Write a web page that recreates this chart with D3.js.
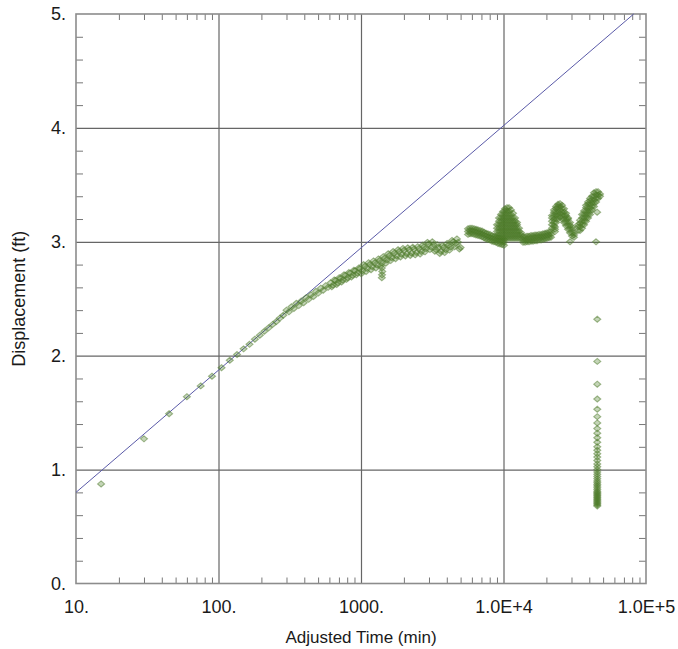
<!DOCTYPE html>
<html>
<head>
<meta charset="utf-8">
<script src="https://cdn.jsdelivr.net/npm/d3@7"></script>
<style>
  body { margin: 0; background: #fff; }
  text { font-family: "Liberation Sans", Arial, sans-serif; fill: #1a1a1a; }
</style>
</head>
<body>
<svg id="chart" width="678" height="649"></svg>
<script>
// Axis tick labels
const xTickValues = [10, 100, 1000, 1e4, 1e5];
const xTickLabels = ["10.", "100.", "1000.", "1.0E+4", "1.0E+5"];
const yTickValues = [0, 1, 2, 3, 4, 5];
const yTickLabels = ["0.", "1.", "2.", "3.", "4.", "5."];

// Straight-line match through the early data
const fitTime = [10, 82000];
const fitDisp = [0.80, 5.0];

// Early drawdown readings (min, ft)
const earlyTime = [15, 30, 45, 60, 75, 90, 105, 120, 135, 150, 165, 180, 195, 210, 225, 240, 255, 270, 285];
const earlyDisp = [0.874, 1.27, 1.49, 1.64, 1.735, 1.82, 1.895, 1.96, 2.01, 2.06, 2.10, 2.145, 2.18, 2.215, 2.245, 2.275, 2.30, 2.33, 2.355];

// Main drawdown band, 300 - 5000 min
const bandTime = [300, 312, 325, 338, 352, 366, 381, 396, 412, 429, 446, 464, 483, 502, 522, 543, 565, 588,
  612, 637, 662, 689, 717, 746, 776, 807, 840, 874, 909, 946, 984, 1024, 1065, 1108, 1153, 1200, 1248, 1299,
  1351, 1406, 1463, 1522, 1583, 1647, 1714, 1783, 1855, 1930, 2008, 2090, 2174, 2262, 2354, 2449, 2548, 2651,
  2758, 2870, 2986, 3107, 3232, 3363, 3499, 3640, 3788, 3941, 4100, 4266, 4439, 4618, 4805, 5000,
  1400, 1410, 1405, 1400];
const bandDisp = [2.40, 2.385, 2.43, 2.415, 2.46, 2.44, 2.48, 2.465, 2.51, 2.495, 2.535, 2.52, 2.565, 2.55, 2.593, 2.575, 2.615, 2.60,
  2.64, 2.62, 2.66, 2.64, 2.68, 2.665, 2.705, 2.685, 2.725, 2.705, 2.745, 2.725, 2.765, 2.745, 2.785, 2.765, 2.80, 2.78, 2.815, 2.795,
  2.835, 2.815, 2.855, 2.84, 2.88, 2.86, 2.90, 2.875, 2.915, 2.89, 2.925, 2.895, 2.93, 2.90, 2.935, 2.905, 2.94, 2.915,
  2.955, 2.94, 2.98, 2.955, 2.975, 2.93, 2.95, 2.915, 2.95, 2.93, 2.97, 2.955, 3.00, 2.985, 2.995, 2.95,
  2.77, 2.74, 2.71, 2.685];

// Intermediate readings in the same band
const bandMidTime = [624, 649, 675, 703, 731, 761, 791, 823, 857, 891, 927, 965, 1004, 1044, 1086, 1130, 1176, 1224,
  1273, 1325, 1378, 1434, 1492, 1552, 1615, 1680, 1748, 1819, 1892, 1969, 2049, 2132, 2218, 2308, 2401, 2498,
  2599, 2704, 2813, 2927, 3046, 3169, 3297, 3431, 3569, 3713, 3864, 4020, 4182, 4352, 4528, 4711, 4902];
const bandMidDisp = [2.605, 2.665, 2.625, 2.685, 2.647, 2.71, 2.67, 2.73, 2.69, 2.75, 2.71, 2.77, 2.72, 2.80, 2.74, 2.817, 2.755, 2.832,
  2.77, 2.85, 2.79, 2.87, 2.812, 2.895, 2.835, 2.915, 2.852, 2.93, 2.867, 2.942, 2.875, 2.947, 2.88, 2.952, 2.885, 2.957,
  2.892, 2.97, 2.912, 2.995, 2.932, 3.00, 2.917, 2.975, 2.897, 2.967, 2.905, 2.985, 2.927, 3.012, 2.957, 3.025, 2.937];

// Later readings, grouped by time: each time carries the spread of readings logged around it
const lateTime = [5636, 5821, 6010, 6209, 6412, 6623, 6841, 7066, 7298, 7538, 7785, 8041, 8305, 8578, 8860, 9151, 9452, 9761, 10080,
  9004, 9299, 9605, 9920, 10245, 10583, 10930, 11290, 11660, 12040, 12440, 12850, 13270,
  13710, 14160, 14620, 15100, 15600, 16110, 16640, 17180, 17750, 18330, 18930, 19560, 20200, 20860, 21540,
  22970,
  21890, 22610, 23360, 24130, 24920, 25740, 26580, 27460, 28360, 29290, 30250, 31250,
  33350, 34440, 35570, 36740, 37950, 39190, 40480, 41810, 43180, 44600, 46060, 47570,
  29300, 44600, 45400];
const lateDisp = [
  [3.065, 3.09, 3.115], [3.07, 3.095, 3.12], [3.07, 3.095, 3.12], [3.065, 3.09, 3.115], [3.06, 3.085, 3.11],
  [3.055, 3.08, 3.105], [3.05, 3.075, 3.10], [3.045, 3.07, 3.095], [3.035, 3.06, 3.085], [3.025, 3.05, 3.075],
  [3.02, 3.045, 3.07], [3.015, 3.04, 3.065], [3.005, 3.03, 3.055], [3.00, 3.025, 3.05], [2.995, 3.02, 3.045],
  [2.985, 3.01, 3.035], [2.98, 3.005, 3.03], [2.975, 3.00, 3.025], [2.97, 2.995, 3.02],
  [3.03, 3.06, 3.09, 3.12, 3.15],
  [3.03, 3.06, 3.09, 3.12, 3.15, 3.18, 3.21],
  [3.03, 3.06, 3.09, 3.12, 3.15, 3.18, 3.21, 3.24],
  [3.03, 3.06, 3.09, 3.12, 3.15, 3.18, 3.21, 3.24, 3.265],
  [3.03, 3.06, 3.09, 3.12, 3.15, 3.18, 3.21, 3.24, 3.27, 3.29],
  [3.03, 3.06, 3.09, 3.12, 3.15, 3.18, 3.21, 3.24, 3.27, 3.30],
  [3.03, 3.06, 3.09, 3.12, 3.15, 3.18, 3.21, 3.24, 3.27, 3.30],
  [3.03, 3.06, 3.09, 3.12, 3.15, 3.18, 3.21, 3.24, 3.28],
  [3.03, 3.06, 3.09, 3.12, 3.15, 3.18, 3.21, 3.25],
  [3.03, 3.06, 3.09, 3.12, 3.15, 3.18, 3.21],
  [3.03, 3.06, 3.09, 3.12, 3.15, 3.17],
  [3.03, 3.06, 3.09, 3.12],
  [3.03, 3.06, 3.08],
  [2.995, 3.02, 3.045], [2.995, 3.02, 3.045], [3.00, 3.025, 3.05], [3.00, 3.025, 3.05], [3.005, 3.03, 3.055],
  [3.005, 3.03, 3.055], [3.01, 3.035, 3.06], [3.01, 3.035, 3.06], [3.015, 3.04, 3.065], [3.015, 3.04, 3.065],
  [3.02, 3.045, 3.07], [3.025, 3.05, 3.075], [3.03, 3.055, 3.08], [3.035, 3.06, 3.085], [3.04, 3.065, 3.09],
  [3.09, 3.11, 3.13],
  [3.12, 3.15, 3.18, 3.21, 3.23],
  [3.14, 3.17, 3.20, 3.23, 3.26, 3.28],
  [3.17, 3.20, 3.23, 3.26, 3.29, 3.31],
  [3.20, 3.23, 3.26, 3.29, 3.31, 3.33],
  [3.22, 3.25, 3.28, 3.31, 3.335],
  [3.20, 3.23, 3.26, 3.29, 3.32],
  [3.17, 3.20, 3.23, 3.26, 3.29],
  [3.14, 3.17, 3.20, 3.23, 3.25],
  [3.11, 3.14, 3.17, 3.20, 3.21],
  [3.08, 3.11, 3.14, 3.17],
  [3.05, 3.08, 3.11, 3.13],
  [3.04, 3.06, 3.08],
  [3.10, 3.13, 3.15],
  [3.10, 3.13, 3.16, 3.19],
  [3.12, 3.15, 3.18, 3.21, 3.24],
  [3.15, 3.18, 3.21, 3.24, 3.27],
  [3.18, 3.21, 3.24, 3.27, 3.30, 3.32],
  [3.21, 3.24, 3.27, 3.30, 3.33, 3.35],
  [3.24, 3.27, 3.30, 3.33, 3.36, 3.38],
  [3.28, 3.31, 3.34, 3.37, 3.40],
  [3.31, 3.34, 3.37, 3.40, 3.43],
  [3.35, 3.38, 3.41, 3.44],
  [3.38, 3.41, 3.44],
  [3.40, 3.42],
  [3.00], [3.00], [3.26]];

// Recovery readings after the pump stopped
const recoveryTime = 45500;
const recoveryDisp = [2.32, 1.95, 1.75, 1.62, 1.53, 1.465, 1.41, 1.36, 1.32, 1.28, 1.24, 1.20, 1.17, 1.14,
  1.11, 1.08, 1.05, 1.025, 1.00, 0.98, 0.96, 0.94, 0.92, 0.90, 0.885, 0.87, 0.855, 0.84, 0.825, 0.81,
  0.80, 0.79, 0.78, 0.77, 0.76, 0.75, 0.74, 0.73, 0.72, 0.71, 0.70, 0.69, 0.68];

const svg = d3.select("#chart");
const plot = { left: 76, right: 646, top: 14, bottom: 583.5 };

const x = d3.scaleLog().domain([10, 1e5]).range([plot.left, plot.right]);
const y = d3.scaleLinear().domain([0, 5]).range([plot.bottom, plot.top]);

const xMinor = [];
[10, 100, 1000, 10000].forEach(d => { for (let k = 2; k <= 9; k++) xMinor.push(d * k); });
const yMinor = d3.range(1, 25).map(i => i * 0.2).filter(v => Math.abs(v - Math.round(v)) > 1e-6);

const plotW = plot.right - plot.left, plotH = plot.bottom - plot.top;

// Major grid
svg.append("g").attr("transform", `translate(0,${plot.bottom})`)
  .call(d3.axisBottom(x).tickValues([100, 1000, 1e4]).tickSize(-plotH).tickFormat(""))
  .call(g => g.select(".domain").remove())
  .call(g => g.selectAll("line").attr("stroke", "#666").attr("stroke-width", 1.2));
svg.append("g").attr("transform", `translate(${plot.left},0)`)
  .call(d3.axisLeft(y).tickValues([1, 2, 3, 4]).tickSize(-plotW).tickFormat(""))
  .call(g => g.select(".domain").remove())
  .call(g => g.selectAll("line").attr("stroke", "#666").attr("stroke-width", 1.2));

// Minor ticks on all four sides, pointing inward
function minorStyle(g) {
  g.select(".domain").remove();
  g.selectAll("line").attr("stroke", "#777").attr("stroke-width", 1);
}
svg.append("g").attr("transform", `translate(0,${plot.bottom})`)
  .call(d3.axisBottom(x).tickValues(xMinor).tickSize(-6).tickFormat("")).call(minorStyle);
svg.append("g").attr("transform", `translate(0,${plot.top})`)
  .call(d3.axisTop(x).tickValues(xMinor).tickSize(-6).tickFormat("")).call(minorStyle);
svg.append("g").attr("transform", `translate(${plot.left},0)`)
  .call(d3.axisLeft(y).tickValues(yMinor).tickSize(-7).tickFormat("")).call(minorStyle);
svg.append("g").attr("transform", `translate(${plot.right},0)`)
  .call(d3.axisRight(y).tickValues(yMinor).tickSize(-7).tickFormat("")).call(minorStyle);

// Frame
svg.append("rect").attr("x", plot.left).attr("y", plot.top)
  .attr("width", plotW).attr("height", plotH)
  .attr("fill", "none").attr("stroke", "#8c8c8c").attr("stroke-width", 1.6);

// Tick labels
svg.append("g").attr("transform", `translate(0,${plot.bottom})`)
  .call(d3.axisBottom(x).tickValues(xTickValues).tickSize(0).tickPadding(17)
    .tickFormat((d, i) => xTickLabels[i]))
  .call(g => g.select(".domain").remove())
  .call(g => g.selectAll("text").attr("font-size", 18).attr("fill", "#1a1a1a"));
svg.append("g").attr("transform", `translate(${plot.left},0)`)
  .call(d3.axisLeft(y).tickValues(yTickValues).tickSize(0).tickPadding(10)
    .tickFormat((d, i) => yTickLabels[i]))
  .call(g => g.select(".domain").remove())
  .call(g => g.selectAll("text").attr("font-size", 18).attr("fill", "#1a1a1a"));

// Axis titles
svg.append("text").attr("x", (plot.left + plot.right) / 2).attr("y", 643)
  .attr("text-anchor", "middle").attr("font-size", 17).text("Adjusted Time (min)");
svg.append("text").attr("transform", `translate(25,${(plot.top + plot.bottom) / 2}) rotate(-90)`)
  .attr("text-anchor", "middle").attr("font-size", 18).text("Displacement (ft)");

// Fitted straight line
const fit = fitTime.map((t, i) => [t, fitDisp[i]]);
svg.append("path").datum(fit)
  .attr("d", d3.line().x(d => x(d[0])).y(d => y(d[1])))
  .attr("fill", "none").attr("stroke", "#5a5aa8").attr("stroke-width", 1);

// Observations as open diamonds; overlapping readings build up into solid green
const pts = [];
[[earlyTime, earlyDisp], [bandTime, bandDisp], [bandMidTime, bandMidDisp]]
  .forEach(([ts, vs]) => ts.forEach((t, i) => pts.push([t, vs[i]])));
lateTime.forEach((t, i) => lateDisp[i].forEach(v => pts.push([t, v])));
recoveryDisp.forEach(v => pts.push([recoveryTime, v]));

const diamond = "M0,-3L3.5,0L0,3L-3.5,0Z";
svg.append("g").selectAll("path").data(pts).join("path")
  .attr("d", diamond)
  .attr("transform", d => `translate(${x(d[0])},${y(d[1])})`)
  .attr("fill", "#3b7510").attr("fill-opacity", 0.3)
  .attr("stroke", "#557f35").attr("stroke-opacity", 0.55).attr("stroke-width", 1.1);
</script>
</body>
</html>
